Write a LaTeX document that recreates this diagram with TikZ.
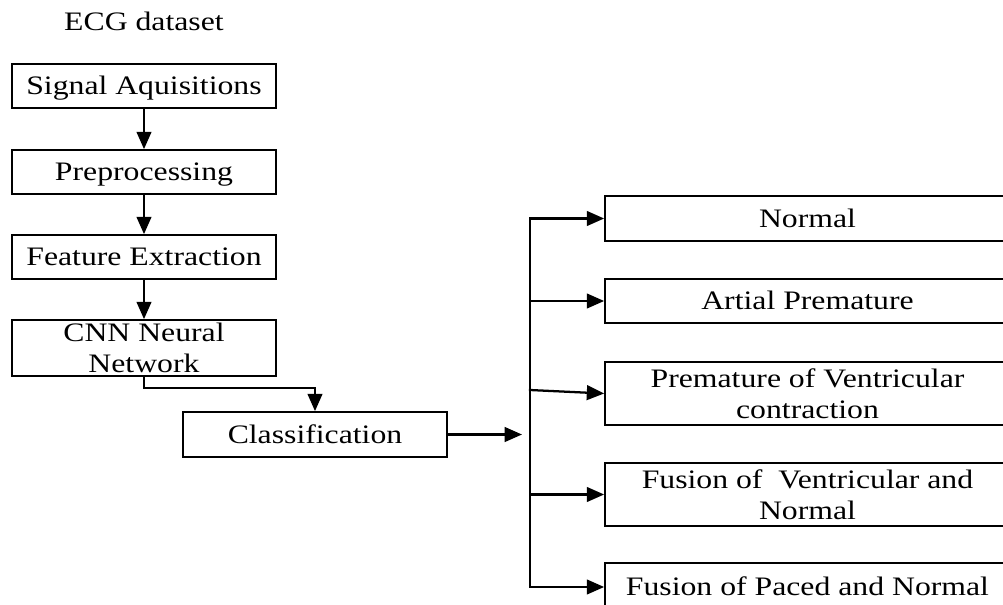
\documentclass[tikz,border=0pt]{standalone}
\usepackage{fontspec}
\setmainfont{Liberation Serif}[FakeStretch=1.19]
\usetikzlibrary{arrows.meta}
\begin{document}
\begin{tikzpicture}[x=0.75pt,y=-0.75pt,
  txt/.style={font=\fontsize{20}{23.6}\selectfont},
  box/.style={txt,draw,line width=1.3pt,inner sep=0pt,minimum width=198pt,minimum height=33pt,align=center},
  one/.style={text height=13.4pt,text depth=0pt},
  rbox/.style={box,minimum width=303.75pt},
  conn/.style={line width=1.7pt,line cap=rect,-{Triangle[length=13pt,width=11pt]}},
  bus/.style={line width=1.7pt,line cap=rect}]
\useasboundingbox (0,0) rectangle (1003,604);
% title
\node[txt,anchor=base,inner sep=0pt] (title) at (144,30) {ECG dataset};
% left column
\node[box,one] (s1) at (144,86) {Signal Aquisitions};
\node[box,one] (s2) at (144,172) {Preprocessing};
\node[box,one] (s3) at (144,257) {Feature Extraction};
\node[box,minimum height=42pt] (s4) at (144,348) {CNN Neural\\Network};
\node[box,one,minimum height=33.75pt] (cls) at (315,434.5) {Classification};
% right column
\node[rbox,one,minimum height=33.75pt] (n1) at (807.5,218.5) {Normal};
\node[rbox,one] (n2) at (807.5,301) {Artial Premature};
\node[rbox,minimum height=47.25pt] (n3) at (807.5,393.5) {Premature of Ventricular\\contraction};
\node[rbox,minimum height=47.25pt] (n4) at (807.5,494.5) {Fusion of~ Ventricular and\\Normal};
\node[rbox,one,minimum height=36pt] (n5) at (807.5,587) {Fusion of Paced and Normal};
% coordinates
\coordinate (ce) at (522,434.5);
\coordinate (bt) at (530,218.5);
\coordinate (b2) at (530,301);
\coordinate (b3) at (530,390);
\coordinate (b4) at (530,494.5);
\coordinate (bb) at (530,587);
% connectors
\draw[conn] (s1) -- (s2);
\draw[conn] (s2) -- (s3);
\draw[conn] (s3) -- (s4);
\draw[conn] (s4.south) -- ++(0,11) -| (cls.north);
\draw[conn] (cls.east) -- (ce);
\draw[bus] (bt) -- (bb);
\draw[conn] (bt) -- (n1.west);
\draw[conn] (b2) -- (n2.west);
\draw[conn] (b3) -- (n3.west);
\draw[conn] (b4) -- (n4.west);
\draw[conn] (bb) -- (n5.west);
\end{tikzpicture}
\end{document}
